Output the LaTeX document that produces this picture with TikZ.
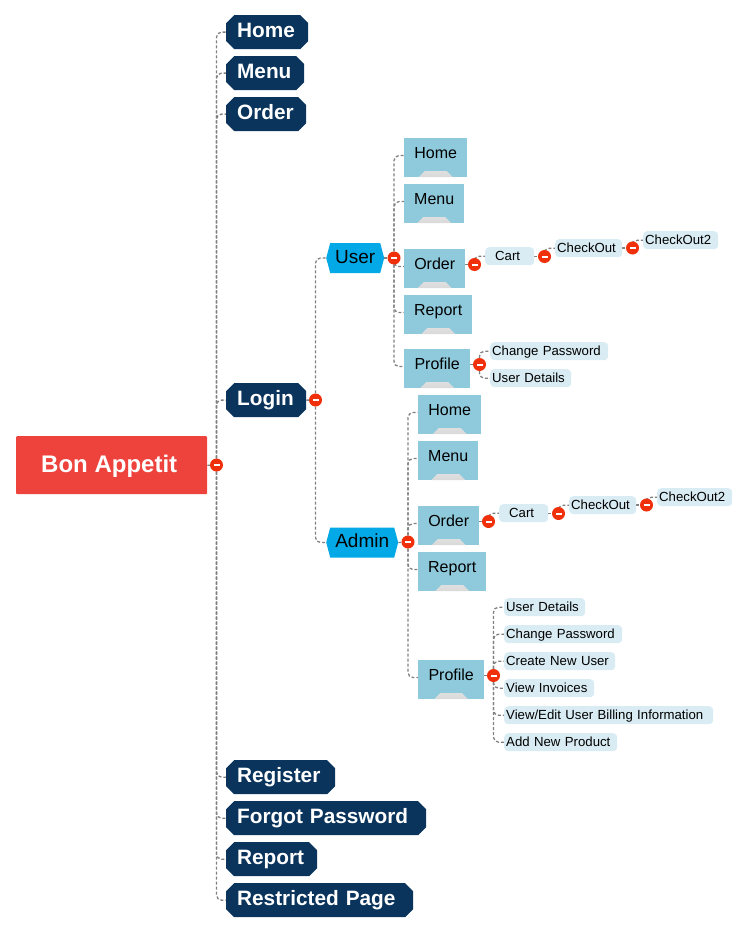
\documentclass[tikz,border=0pt]{standalone}
\usepackage{fontspec}
\setmainfont{Liberation Sans}
\usetikzlibrary{shapes.misc,shapes.symbols,backgrounds}

\definecolor{navy}{HTML}{0A345C}
\definecolor{tomato}{HTML}{EE433C}
\definecolor{sky}{HTML}{02A9E6}
\definecolor{teal}{HTML}{8FCADC}
\definecolor{pale}{HTML}{D9ECF3}
\definecolor{dot}{HTML}{F0300A}

\tikzset{
  rootnode/.style={fill=tomato,rounded corners=1pt,text=white,font=\bfseries\fontsize{24}{24}\selectfont,inner sep=0pt,minimum width=191pt,text height=36pt,text depth=22pt},
  topic/.style={shape=chamfered rectangle,chamfered rectangle xsep=4pt,chamfered rectangle ysep=4pt,fill=navy,text=white,font=\bfseries\fontsize{20.8}{24}\selectfont,align=left,text width=#1,inner xsep=7pt,inner ysep=0pt,text height=18pt,text depth=8pt,xshift=4pt,yshift=-4pt},
  hexa/.style={shape=signal,signal to=east and west,signal pointer angle=150,fill=sky,font=\fontsize{19}{24}\selectfont,minimum width=#1,inner xsep=0pt,inner ysep=0pt,text height=20pt,text depth=10pt,anchor=west},
  page/.style={fill=teal,font=\fontsize{16}{20}\selectfont,minimum width=#1,inner sep=0pt,text height=20pt,text depth=19pt,
    path picture={\shade[top color=white,bottom color=black!15] ([xshift=-11pt,yshift=6pt]path picture bounding box.south) -- ([xshift=11pt,yshift=6pt]path picture bounding box.south) -- ([xshift=17pt]path picture bounding box.south) -- ([xshift=-17pt]path picture bounding box.south) -- cycle;}},
  leaf/.style={fill=pale,rounded corners=4pt,font=\fontsize{13.2}{16}\selectfont,align=left,text width=#1,inner xsep=2pt,inner ysep=0pt,text height=13pt,text depth=5pt},
  hub/.style={circle,fill=dot,minimum size=13pt,inner sep=0pt,
    path picture={\fill[white] ([xshift=-3pt,yshift=-1pt]path picture bounding box.center) rectangle ([xshift=3pt,yshift=1pt]path picture bounding box.center);}},
  link/.style={to path={|- (\tikztotarget)},
    every edge/.style={draw=black!50,line width=1.3pt,dash pattern=on 3pt off 2pt,rounded corners=5pt}},
  stub/.style={draw=black!50,line width=1.3pt,dash pattern=on 3pt off 2pt},
  every node/.append style={anchor=north west}
}

\begin{document}
\begin{tikzpicture}[x=1pt,y=-1pt]
\useasboundingbox (0,0) rectangle (747,931);

\node[rootnode] (bon) at (16,436) {Bon Appetit\hspace*{5pt}};

\node[topic=60pt] (home) at (226,15) {Home};
\node[topic=56pt] (menu) at (226,56) {Menu};
\node[topic=58pt] (order) at (226,97) {Order};
\node[topic=58pt] (login) at (226,383) {Login};
\node[topic=87pt] (register) at (226,760) {Register};
\node[topic=178pt] (forgot) at (226,801) {Forgot Password};
\node[topic=69pt] (report) at (226,842) {Report};
\node[topic=165pt] (restricted) at (226,883) {Restricted Page};

\node[hexa=58pt] (user) at (326,258) {User};
\node[hexa=72pt] (admin) at (326,542.5) {Admin};

% user side
\node[page=63pt] (uhome) at (404,138) {Home};
\node[page=60pt] (umenu) at (404,184) {Menu};
\node[page=61pt] (uorder) at (404,249) {Order};
\node[page=68pt] (ureport) at (404,295) {Report};
\node[page=66pt] (uprofile) at (404,349) {Profile};
\node[leaf=45pt] (ucart) at (485,247) {\hspace*{8pt}Cart};
\node[leaf=63pt] (ucheck) at (555,239) {CheckOut};
\node[leaf=71pt] (ucheckb) at (643,231) {CheckOut2};
\node[leaf=114pt] (upass) at (490,342) {Change Password};
\node[leaf=77pt] (udetails) at (490,369) {User Details};

% admin side
\node[page=63pt] (ahome) at (418,395) {Home};
\node[page=60pt] (amenu) at (418,441) {Menu};
\node[page=61pt] (aorder) at (418,506) {Order};
\node[page=68pt] (areport) at (418,552) {Report};
\node[page=66pt] (aprofile) at (418,660) {Profile};
\node[leaf=45pt] (acart) at (499,504) {\hspace*{8pt}Cart};
\node[leaf=63pt] (acheck) at (569,496) {CheckOut};
\node[leaf=71pt] (acheckb) at (657,488) {CheckOut2};
\node[leaf=77pt] (adetails) at (504,598) {User Details};
\node[leaf=114pt] (apass) at (504,625) {Change Password};
\node[leaf=107pt] (acreate) at (504,652) {Create New User};
\node[leaf=86pt] (ainvoices) at (504,679) {View Invoices};
\node[leaf=205pt] (abilling) at (504,706) {View/Edit User Billing Information};
\node[leaf=109pt] (aproduct) at (504,733) {Add New Product};

% minus buttons
\tikzset{every node/.append style={anchor=center}}
\node[hub] (hbon) at (216.5,465) {};
\node[hub] (hlogin) at (315.5,400) {};
\node[hub] (huser) at (394,258) {};
\node[hub] (hadmin) at (408,542) {};
\node[hub] (huorder) at (474.5,264.5) {};
\node[hub] (hucart) at (544.5,256.5) {};
\node[hub] (hucheck) at (632.5,248) {};
\node[hub] (huprofile) at (479.5,364.5) {};
\node[hub] (haorder) at (488.5,521.5) {};
\node[hub] (hacart) at (558.5,513.5) {};
\node[hub] (hacheck) at (646.5,505) {};
\node[hub] (haprofile) at (493.5,675.5) {};

\begin{scope}[on background layer]
\path[link] (hbon) edge (home.west) edge (menu.west) edge (order.west) edge (login.west)
   edge (register.west) edge (forgot.west) edge (report.west) edge (restricted.west);
\path[link] (hlogin) edge (user.west) edge (admin.west);
\path[link] (huser) edge (uhome.mid west) edge (umenu.mid west) edge (uorder.mid west) edge (ureport.mid west) edge (uprofile.mid west);
\path[link] (hadmin) edge (ahome.mid west) edge (amenu.mid west) edge (aorder.mid west) edge (areport.mid west) edge (aprofile.mid west);
\path[link] (huorder) edge (ucart.west);
\path[link] (hucart) edge (ucheck.west);
\path[link] (hucheck) edge (ucheckb.west);
\path[link] (huprofile) edge (upass.west) edge (udetails.west);
\path[link] (haorder) edge (acart.west);
\path[link] (hacart) edge (acheck.west);
\path[link] (hacheck) edge (acheckb.west);
\path[link] (haprofile) edge (adetails.west) edge (apass.west) edge (acreate.west) edge (ainvoices.west) edge (abilling.west) edge (aproduct.west);
\draw[stub] (bon.east) -- (hbon);
\draw[stub] (login.east) -- (hlogin);
\draw[stub] (user.east) -- (huser);
\draw[stub] (admin.east) -- (hadmin);
\draw[stub] (uorder.east |- huorder) -- (huorder);
\draw[stub] (ucart.east |- hucart) -- (hucart);
\draw[stub] (ucheck.east |- hucheck) -- (hucheck);
\draw[stub] (uprofile.east |- huprofile) -- (huprofile);
\draw[stub] (aorder.east |- haorder) -- (haorder);
\draw[stub] (acart.east |- hacart) -- (hacart);
\draw[stub] (acheck.east |- hacheck) -- (hacheck);
\draw[stub] (aprofile.east |- haprofile) -- (haprofile);
\end{scope}
\end{tikzpicture}
\end{document}
